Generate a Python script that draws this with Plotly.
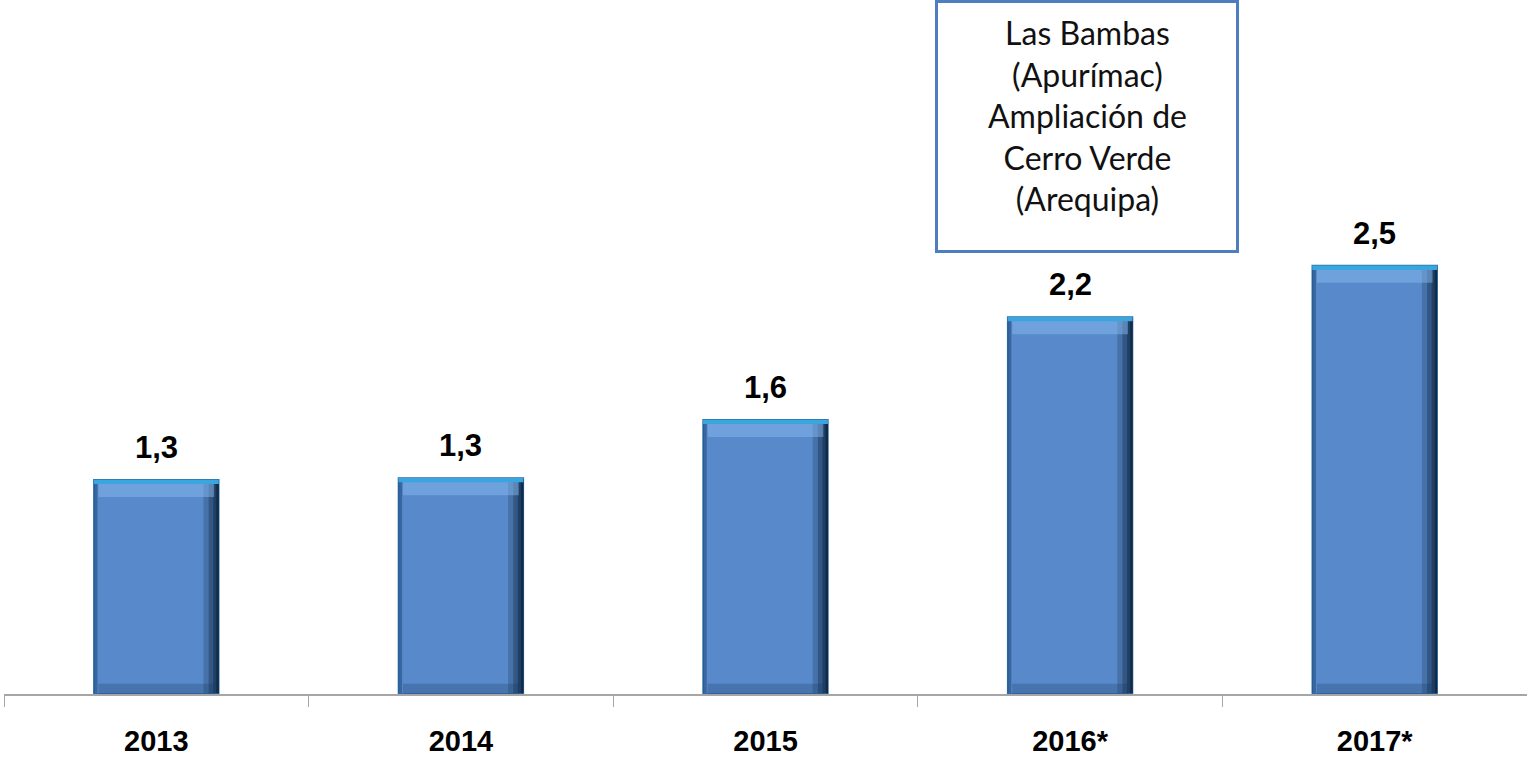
import plotly.graph_objects as go

categories = ["2013", "2014", "2015", "2016*", "2017*"]
values = [1.25, 1.26, 1.6, 2.2, 2.5]
labels = ["1,3", "1,3", "1,6", "2,2", "2,5"]
note_lines = ["Las Bambas", "(Apurímac)", "Ampliación de", "Cerro Verde", "(Arequipa)"]
note_category = "2016*"

BW = 0.41
fig = go.Figure()

# main bars
fig.add_trace(go.Bar(
    x=categories, y=values, width=BW,
    marker=dict(color="#5889CA", line=dict(color="#2E6FA8", width=1.5)),
    hoverinfo="skip", showlegend=False,
))

# bevel effect: dark right edge strips
for w, op in [(0.05, 0.22), (0.033, 0.32), (0.018, 0.42), (0.008, 0.55)]:
    fig.add_trace(go.Bar(
        x=categories, y=[v - 0.01 for v in values], base=0.005, width=w,
        offset=BW / 2 - w,
        marker=dict(color=f"rgba(10,30,55,{op})", line=dict(width=0)),
        hoverinfo="skip", showlegend=False,
    ))
# left edge
fig.add_trace(go.Bar(
    x=categories, y=[v - 0.01 for v in values], base=0.005, width=0.012,
    offset=-BW / 2,
    marker=dict(color="rgba(20,60,110,0.45)", line=dict(width=0)),
    hoverinfo="skip", showlegend=False,
))
# top light bevel
fig.add_trace(go.Bar(
    x=categories, y=[0.09] * len(values), base=[v - 0.1 for v in values], width=BW - 0.03,
    marker=dict(color="rgba(140,190,245,0.45)", line=dict(width=0)),
    hoverinfo="skip", showlegend=False,
))
# bottom dark bevel
fig.add_trace(go.Bar(
    x=categories, y=[0.06] * len(values), base=0.0, width=BW - 0.03,
    marker=dict(color="rgba(20,50,90,0.25)", line=dict(width=0)),
    hoverinfo="skip", showlegend=False,
))
# top cyan edge
fig.add_trace(go.Bar(
    x=categories, y=[0.025] * len(values), base=[v - 0.025 for v in values], width=BW,
    marker=dict(color="#3AA6E0", line=dict(width=0)),
    hoverinfo="skip", showlegend=False,
))

# value labels (category index positions on the category axis)
for i, (v, t) in enumerate(zip(values, labels)):
    fig.add_annotation(
        x=i, y=v, yshift=13, xanchor="center", yanchor="bottom",
        text=f"<b>{t}</b>", showarrow=False,
        font=dict(family="Liberation Sans", size=31, color="#000000"),
    )

ni = categories.index(note_category)
# note box
fig.add_annotation(
    xref="x", yref="paper", x=ni, y=1.0, yshift=0, xshift=17,
    xanchor="center", yanchor="top",
    text=" ", showarrow=False,
    bordercolor="#4F7EBF", borderwidth=3, borderpad=0,
    width=298, height=247, bgcolor="white",
)
fig.add_annotation(
    xref="x", yref="paper", x=ni, y=1.0, yshift=-11, xshift=17,
    xanchor="center", yanchor="top",
    text="<br>".join(note_lines), showarrow=False, align="center",
    font=dict(family="Lato", size=32, color="#111111"),
)

fig.update_layout(
    width=1527, height=757, autosize=False,
    barmode="overlay",
    plot_bgcolor="white", paper_bgcolor="white",
    margin=dict(l=4, r=0, t=0, b=63),
    xaxis=dict(
        type="category", categoryarray=categories, categoryorder="array",
        range=[-0.5, len(categories) - 0.5],
        showline=True, linecolor="#A6A6A6", linewidth=1.5,
        ticks="outside", tickson="boundaries", ticklen=11, tickcolor="#A6A6A6",
        tickfont=dict(family="Liberation Sans", size=29, color="#000000"),
        ticklabelstandoff=20,
        showgrid=False, zeroline=False, automargin=False,
        tickprefix="<b>", ticksuffix="</b>",
    ),
    yaxis=dict(range=[0, 4.05], visible=False, showgrid=False, zeroline=False),
)

fig.write_html(
    "out.html",
    config={"displayModeBar": False},
    post_script="document.body.style.margin='0';document.body.style.overflow='hidden';",
)
